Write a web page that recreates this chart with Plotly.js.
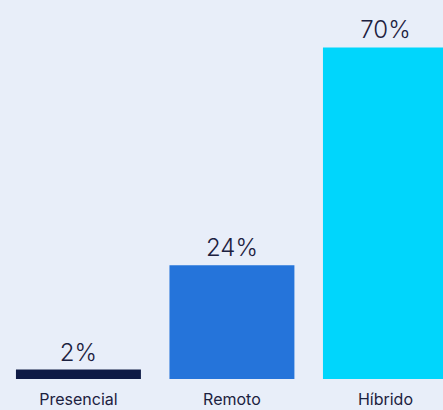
<!DOCTYPE html>
<html>
<head>
<meta charset="utf-8">
<script src="https://cdn.plot.ly/plotly-3.0.1.min.js"></script>
<style>html,body{margin:0;padding:0;background:#e8eef9;}#chart{width:443px;height:410px;}</style>
</head>
<body>
<div id="chart"></div>
<script>
const categories = ["Presencial", "Remoto", "Híbrido"];
const values = [2, 24, 70];
const labels = ["2%", "24%", "70%"];
const colors = ["#0e1a45", "#2574da", "#00d6fc"];

const trace = {
  type: "bar",
  x: categories,
  y: values,
  text: labels,
  textposition: "outside",
  cliponaxis: false,
  textfont: {family: "Inter, sans-serif", size: 24, color: "#1c2140", weight: 300},
  marker: {color: colors},
  hoverinfo: "none"
};

const layout = {
  width: 443,
  height: 410,
  margin: {l: 0, r: 0, t: 0, b: 31},
  paper_bgcolor: "#e8eef9",
  plot_bgcolor: "#e8eef9",
  bargap: 0.186,
  showlegend: false,
  xaxis: {
    type: "category",
    range: [-0.511, 2.375],
    showgrid: false,
    zeroline: false,
    showline: false,
    ticks: "",
    ticklabelstandoff: 9,
    tickfont: {family: "Inter, sans-serif", size: 16, color: "#1c2140"}
  },
  yaxis: {
    range: [0, 80],
    visible: false,
    showgrid: false,
    zeroline: false
  }
};

Plotly.newPlot("chart", [trace], layout, {displayModeBar: false, staticPlot: true});
</script>
</body>
</html>
